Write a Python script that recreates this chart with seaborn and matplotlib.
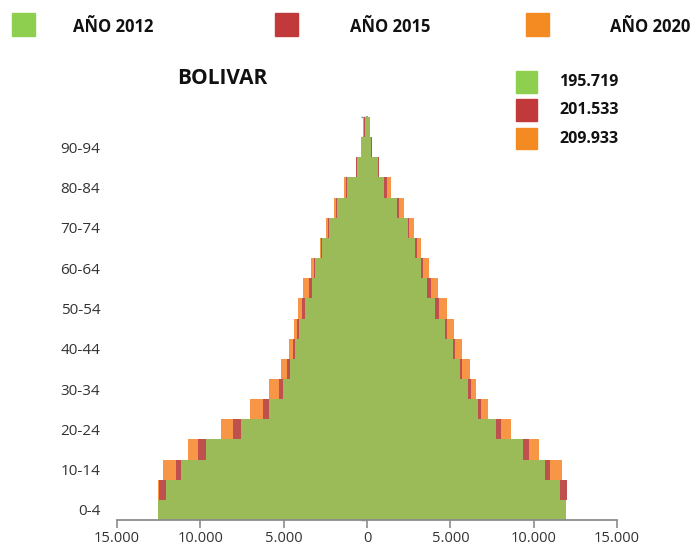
import numpy as np
import pandas as pd
import matplotlib
matplotlib.use("Agg")
import matplotlib.pyplot as plt
from matplotlib.patches import Rectangle
from matplotlib.ticker import FuncFormatter
import seaborn as sns

# ---------------- data ----------------
ages = ['0-4', '5-9', '10-14', '15-19', '20-24', '25-29', '30-34', '35-39',
        '40-44', '45-49', '50-54', '55-59', '60-64', '65-69', '70-74',
        '75-79', '80-84', '85-89', '90-94', '95-99']

left_2012 = [12560, 12060, 11160, 9660, 7560, 5900, 5040, 4620, 4340, 4080,
             3720, 3300, 3140, 2700, 2300, 1800, 1200, 600, 280, 120]
left_2015 = [12200, 12460, 11460, 10120, 8020, 6260, 5280, 4780, 4460, 4180,
             3900, 3480, 3200, 2760, 2360, 1860, 1260, 640, 320, 180]
left_2020 = [11700, 12560, 12220, 10720, 8780, 7000, 5880, 5160, 4660, 4380,
             4160, 3840, 3340, 2840, 2440, 1960, 1400, 680, 380, 260]

right_2012 = [11940, 11560, 10680, 9340, 7760, 6680, 6080, 5600, 5140, 4660,
              4100, 3580, 3240, 2900, 2440, 1800, 1040, 680, 250, 100]
right_2015 = [11700, 12000, 11000, 9720, 8040, 6840, 6220, 5720, 5280, 4780,
              4300, 3840, 3340, 3000, 2540, 1940, 1200, 700, 280, 140]
right_2020 = [11100, 11900, 11700, 10320, 8640, 7280, 6560, 6160, 5720, 5240,
              4780, 4240, 3740, 3240, 2800, 2200, 1440, 740, 300, 180]

years = ['AÑO 2012', 'AÑO 2015', 'AÑO 2020']
totals = ['195.719', '201.533', '209.933']
bar_colors = ['#9BBB59', '#C0504D', '#F79646']
legend_colors = ['#8ECF50', '#C1393A', '#F38B22']
labeled_ages = ['0-4', '10-14', '20-24', '30-34', '40-44', '50-54',
                '60-64', '70-74', '80-84', '90-94']
x_ticks = [-15000, -10000, -5000, 0, 5000, 10000, 15000]
title = 'BOLIVAR'

# ---------------- figure ----------------
sns.set_style('white')
plt.rcParams['font.family'] = ['Open Sans', 'DejaVu Sans']

W, H = 699, 550
fig = plt.figure(figsize=(W / 100, H / 100), dpi=100)
ax = fig.add_axes([117 / W, 1 - 520 / H, 500 / W, 403 / H])

order = ages[::-1]
series = [(left_2020, right_2020, bar_colors[2]),
          (left_2015, right_2015, bar_colors[1]),
          (left_2012, right_2012, bar_colors[0])]
for left, right, col in series:
    dl = pd.DataFrame({'age': ages, 'value': -np.array(left, dtype=float)})
    dr = pd.DataFrame({'age': ages, 'value': np.array(right, dtype=float)})
    for d in (dl, dr):
        sns.barplot(data=d, x='value', y='age', order=order, orient='h',
                    color=col, width=1.0, saturation=1, errorbar=None,
                    linewidth=0, ax=ax)

ax.set_xlim(-15000, 15000)
ax.set_ylim(len(ages) - 0.5, -0.5)
ax.set_xlabel('')
ax.set_ylabel('')

# x axis
ax.set_xticks(x_ticks)
ax.xaxis.set_major_formatter(FuncFormatter(lambda v, p: f"{abs(int(round(v))):,}".replace(',', '.')))
ax.tick_params(axis='x', direction='out', length=6, width=1.2, color='#8C8C8C',
               labelsize=10.5, labelcolor='#333333', pad=2, bottom=True)
for s in ['top', 'right', 'left']:
    ax.spines[s].set_visible(False)
ax.spines['bottom'].set_color('#8C8C8C')
ax.spines['bottom'].set_linewidth(1.3)

# y labels
ypos = [order.index(a) for a in labeled_ages]
ax.set_yticks(ypos)
ax.set_yticklabels(labeled_ages)
ax.tick_params(axis='y', length=0, pad=12, labelsize=11, labelcolor='#333333')

# central axis with ticks at row boundaries
sec = ax.secondary_yaxis(0.4999)
sec.set_yticks(np.arange(-0.5, len(ages), 1.0))
sec.tick_params(axis='y', direction='out', length=4, width=1.0, color='#8C8C8C',
                labelleft=False, labelright=False)
for s in sec.spines.values():
    s.set_color('#8C8C8C')
    s.set_linewidth(1.3)

# title
fig.text(222 / W, 1 - 78 / H, title, ha='center', va='center',
         fontsize=15, fontweight='bold', color='#111111')

# top legend
sq_x = [12, 275, 526]
txt_x = [73, 350, 610]
for sx, tx, lab, c in zip(sq_x, txt_x, years, legend_colors):
    fig.patches.append(Rectangle((sx / W, 1 - 36 / H), 23 / W, 23 / H,
                                 transform=fig.transFigure, color=c))
    fig.text(tx / W, 1 - 27 / H, lab, ha='left', va='center',
             fontsize=12, fontweight='bold', color='#111111')

# right legend
ys = [82, 110, 139]
for yy, lab, c in zip(ys, totals, legend_colors):
    fig.patches.append(Rectangle((516 / W, 1 - (yy + 10.5) / H), 21 / W, 21 / H,
                                 transform=fig.transFigure, color=c))
    fig.text(559 / W, 1 - yy / H, lab, ha='left', va='center',
             fontsize=11.5, fontweight='bold', color='#111111')

fig.savefig('out.png', dpi=100)
